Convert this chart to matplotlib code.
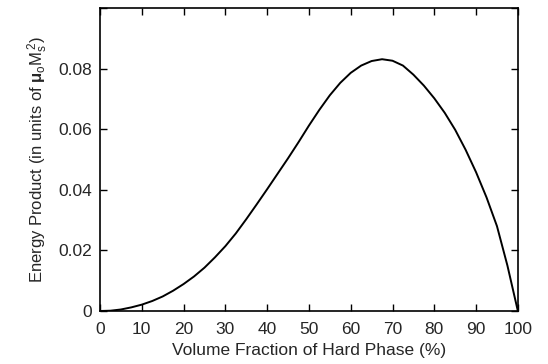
import matplotlib
matplotlib.use("Agg")
import matplotlib.pyplot as plt

plt.rcParams['font.family'] = ['Liberation Sans', 'DejaVu Sans']
plt.rcParams['mathtext.fontset'] = 'custom'
plt.rcParams['mathtext.rm'] = 'Liberation Sans'
plt.rcParams['mathtext.it'] = 'Liberation Sans'
plt.rcParams['mathtext.bf'] = 'Liberation Sans:bold'

volume_fraction = [0, 2.5, 5, 7.5, 10, 12.5, 15, 17.5, 20, 22.5, 25, 27.5, 30, 32.5, 35,
                   37.5, 40, 42.5, 45, 47.5, 50, 52.5, 55, 57.5, 60, 62.5, 65, 67.5, 70,
                   72.5, 75, 77.5, 80, 82.5, 85, 87.5, 90, 92.5, 95, 97.5, 100]
energy_product = [0, 0.0001, 0.0005, 0.0012, 0.0021, 0.0033, 0.0048, 0.0067, 0.0089,
                  0.0114, 0.0143, 0.0177, 0.0214, 0.0256, 0.0303, 0.0352, 0.0402,
                  0.0453, 0.0504, 0.0557, 0.0612, 0.0664, 0.0712, 0.0753, 0.0786,
                  0.0810, 0.0825, 0.0831, 0.0826, 0.0810, 0.0780, 0.0744, 0.0702,
                  0.0654, 0.0598, 0.0532, 0.0458, 0.0375, 0.0280, 0.0150, 0.0]

x_ticks = [0, 10, 20, 30, 40, 50, 60, 70, 80, 90, 100]
y_ticks = [0, 0.02, 0.04, 0.06, 0.08, 0.1]
y_tick_labels = ['0', '0.02', '0.04', '0.06', '0.08', '']

text_color = '#262626'

fig = plt.figure(figsize=(5.48, 3.64), dpi=100)
ax = fig.add_axes([0.1825, 0.1456, 0.7625, 0.8324])
ax.plot(volume_fraction, energy_product, color='black', lw=1.4)
ax.set_xlim(0, 100)
ax.set_ylim(0, 0.1)
ax.set_xticks(x_ticks)
ax.set_xticklabels([str(t) for t in x_ticks])
ax.set_yticks(y_ticks)
ax.set_yticklabels(y_tick_labels)
ax.tick_params(direction='in', length=5, width=1, top=True, right=True,
               labelsize=12.5, colors='black', labelcolor=text_color)
ax.tick_params(axis='x', pad=8)
ax.tick_params(axis='y', pad=6)
for s in ax.spines.values():
    s.set_linewidth(1.2)
ax.set_xlabel('Volume Fraction of Hard Phase (%)', fontsize=12.5, labelpad=4,
              color=text_color)
ax.set_ylabel(r'Energy Product (in units of $\mathbf{\mu}_\mathrm{o}\mathrm{M}_\mathrm{s}^{\,2}$)',
              fontsize=12, labelpad=6, color=text_color)
fig.savefig('out.png', dpi=100)
